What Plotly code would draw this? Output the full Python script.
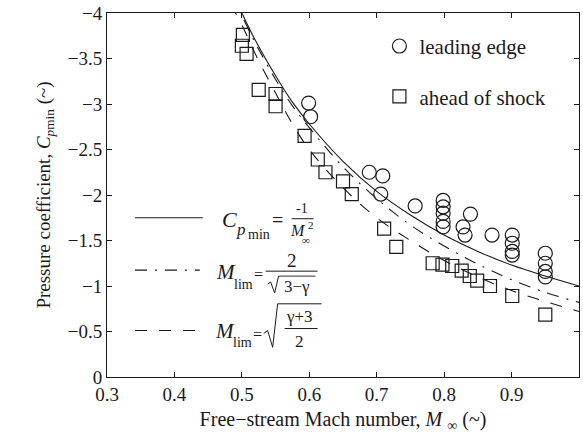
import plotly.graph_objects as go

# ---------------- data ----------------
mach_lead = [0.599, 0.602, 0.689, 0.709, 0.706, 0.757,
             0.7985, 0.7985, 0.7985, 0.7985, 0.7985,
             0.839, 0.828, 0.831, 0.871,
             0.901, 0.901, 0.901, 0.901,
             0.95, 0.95, 0.95, 0.95]
cp_lead = [-3.01, -2.86, -2.25, -2.21, -2.01, -1.88,
           -1.94, -1.87, -1.80, -1.71, -1.65,
           -1.79, -1.65, -1.56, -1.56,
           -1.56, -1.47, -1.38, -1.34,
           -1.36, -1.25, -1.16, -1.10]

mach_shock = [0.5015, 0.500, 0.507, 0.525, 0.550, 0.550, 0.593, 0.6126, 0.624,
              0.650, 0.663, 0.711, 0.729, 0.783, 0.7975, 0.812, 0.826, 0.838,
              0.849, 0.868, 0.901, 0.950]
cp_shock = [-3.76, -3.64, -3.55, -3.155, -3.11, -2.975, -2.65, -2.39, -2.25,
            -2.15, -2.01, -1.63, -1.43, -1.25, -1.235, -1.22, -1.17, -1.11,
            -1.06, -1.00, -0.89, -0.685]

curve_mach = [0.485, 0.49, 0.50, 0.52, 0.55, 0.575, 0.60, 0.65, 0.70, 0.75,
              0.80, 0.85, 0.90, 0.95, 1.00]
cp_solid = [-4.25, -4.165, -4.00, -3.70, -3.31, -3.02, -2.78, -2.37, -2.04,
            -1.78, -1.56, -1.38, -1.23, -1.11, -1.00]
cp_dashdot = [-4.22, -4.13, -3.97, -3.67, -3.27, -2.98, -2.74, -2.31, -1.96,
              -1.67, -1.44, -1.24, -1.07, -0.93, -0.82]
cp_dashed = [-4.10, -4.01, -3.87, -3.55, -3.12, -2.78, -2.50, -2.08, -1.75,
             -1.50, -1.28, -1.10, -0.95, -0.83, -0.72]

x_tickvals = [0.3, 0.4, 0.5, 0.6, 0.7, 0.8, 0.9]
x_ticktext = ["0.3", "0.4", "0.5", "0.6", "0.7", "0.8", "0.9"]
y_tickvals = [-4, -3.5, -3, -2.5, -2, -1.5, -1, -0.5, 0]
y_ticktext = ["\u22124", "\u22123.5", "\u22123", "\u22122.5", "\u22122",
              "\u22121.5", "\u22121", "\u22120.5", "0"]

FONT = "Liberation Serif"
INK = "#1a1a1a"

# plot-area geometry (pixels)
L, R, T, B = 107, 3, 9, 63
W, H = 583, 440
PW, PH = W - L - R, H - T - B


def P(px, py):
    return (px - L) / PW, (H - B - py) / PH


fig = go.Figure()

fig.add_trace(go.Scatter(x=curve_mach, y=cp_solid, mode="lines", line_shape="spline",
                         line=dict(color=INK, width=1.1), showlegend=False))
fig.add_trace(go.Scatter(x=curve_mach, y=cp_dashdot, mode="lines", line_shape="spline",
                         line=dict(color=INK, width=1.1, dash="12px,8px,2px,8px"),
                         showlegend=False))
fig.add_trace(go.Scatter(x=curve_mach, y=cp_dashed, mode="lines", line_shape="spline",
                         line=dict(color=INK, width=1.1, dash="12px,12px"),
                         showlegend=False))

fig.add_trace(go.Scatter(x=mach_lead, y=cp_lead, mode="markers", name="leading edge",
                         legendgroup="a",
                         marker=dict(symbol="circle-open", size=14, color=INK,
                                     line=dict(width=1.2, color=INK))))
fig.add_trace(go.Scatter(x=mach_shock, y=cp_shock, mode="markers", name="ahead of shock",
                         legendgroup="b",
                         marker=dict(symbol="square-open", size=13, color=INK,
                                     line=dict(width=1.2, color=INK))))

ann = []


def text(px, py, s, size, italic=False):
    x, y = P(px, py)
    if italic:
        s = "<i>" + s + "</i>"
    ann.append(dict(x=x, y=y, xref="paper", yref="paper", text=s, showarrow=False,
                    xanchor="center", yanchor="middle",
                    font=dict(family=FONT, size=size, color=INK)))


shapes = []


def seg(x0, y0, x1, y1, dash="solid", width=1.1):
    a, b = P(x0, y0)
    c, d = P(x1, y1)
    shapes.append(dict(type="line", xref="paper", yref="paper", x0=a, y0=b, x1=c, y1=d,
                       line=dict(color=INK, width=width, dash=dash)))


# legend line samples
seg(135, 216, 203, 216)
seg(135, 269, 200, 269, dash="12px,8px,2px,8px")
seg(135, 330, 200, 330, dash="12px,12px")

# formula 1: C_pmin = -1 / M_inf^2
text(230, 218, "C", 22, True)
text(241, 228, "p", 17, True)
text(259, 233, "min", 14)
text(278, 218, "=", 20)
text(302, 207, "-1", 14)
seg(292, 217, 314, 217, width=1)
text(298, 229, "M", 16, True)
text(311, 223, "2", 11)
text(306, 238, "\u221e", 11)

# formula 2: M_lim = 2 / sqrt(3-gamma)
text(226, 271, "M", 21, True)
text(244, 283, "lim", 14)
text(259, 273, "=", 16)
text(292, 259, "2", 19)
seg(266, 270, 318, 270, width=1)
seg(268, 283, 271, 281, width=1)
seg(271, 281, 275, 292, width=1)
seg(275, 292, 279, 275, width=1)
seg(279, 275, 316, 275, width=0.9)
text(297, 285, "3\u2212\u03b3", 17)

# formula 3: M_lim = sqrt((gamma+3)/2)
text(225, 330, "M", 21, True)
text(243, 342, "lim", 14)
text(258, 334, "=", 16)
seg(264, 333, 268, 330, width=1)
seg(268, 330, 273, 347, width=1)
seg(273, 347, 278, 303, width=1)
seg(278, 303, 322, 303, width=1)
text(300, 316, "\u03b3+3", 17)
seg(285, 328, 318, 328, width=1)
text(300, 341, "2", 17)

lx, ly = P(380, 22)

fig.update_layout(
    width=W, height=H,
    margin=dict(l=L, r=R, t=T, b=B),
    paper_bgcolor="white", plot_bgcolor="white",
    font=dict(family=FONT, size=19, color=INK),
    annotations=ann, shapes=shapes,
    legend=dict(x=lx, y=ly, xanchor="left", yanchor="top",
                font=dict(family=FONT, size=21, color=INK),
                bgcolor="rgba(0,0,0,0)", traceorder="grouped", tracegroupgap=20),
    xaxis=dict(range=[0.3, 1.0], tickvals=x_tickvals, ticktext=x_ticktext,
               ticks="inside", ticklen=5, tickcolor=INK, showline=True, linecolor=INK,
               linewidth=1, mirror="ticks", showgrid=False, zeroline=False,
               tickfont=dict(family=FONT, size=19, color=INK),
               title=dict(text="Free\u2212stream Mach number, <i>M</i> <sub>\u221e</sub> (~)",
                          font=dict(family=FONT, size=20, color=INK), standoff=8)),
    yaxis=dict(range=[0, -4], tickvals=y_tickvals, ticktext=y_ticktext,
               ticks="inside", ticklen=5, tickcolor=INK, showline=True, linecolor=INK,
               linewidth=1, mirror="ticks", showgrid=False, zeroline=False,
               ticklabeloverflow="allow",
               tickfont=dict(family=FONT, size=19, color=INK),
               title=dict(text="Pressure coefficient, <i>C</i><sub><i>p</i></sub><sub>min</sub> (~)",
                          font=dict(family=FONT, size=19, color=INK), standoff=12)),
)

fig.write_html("out.html")
